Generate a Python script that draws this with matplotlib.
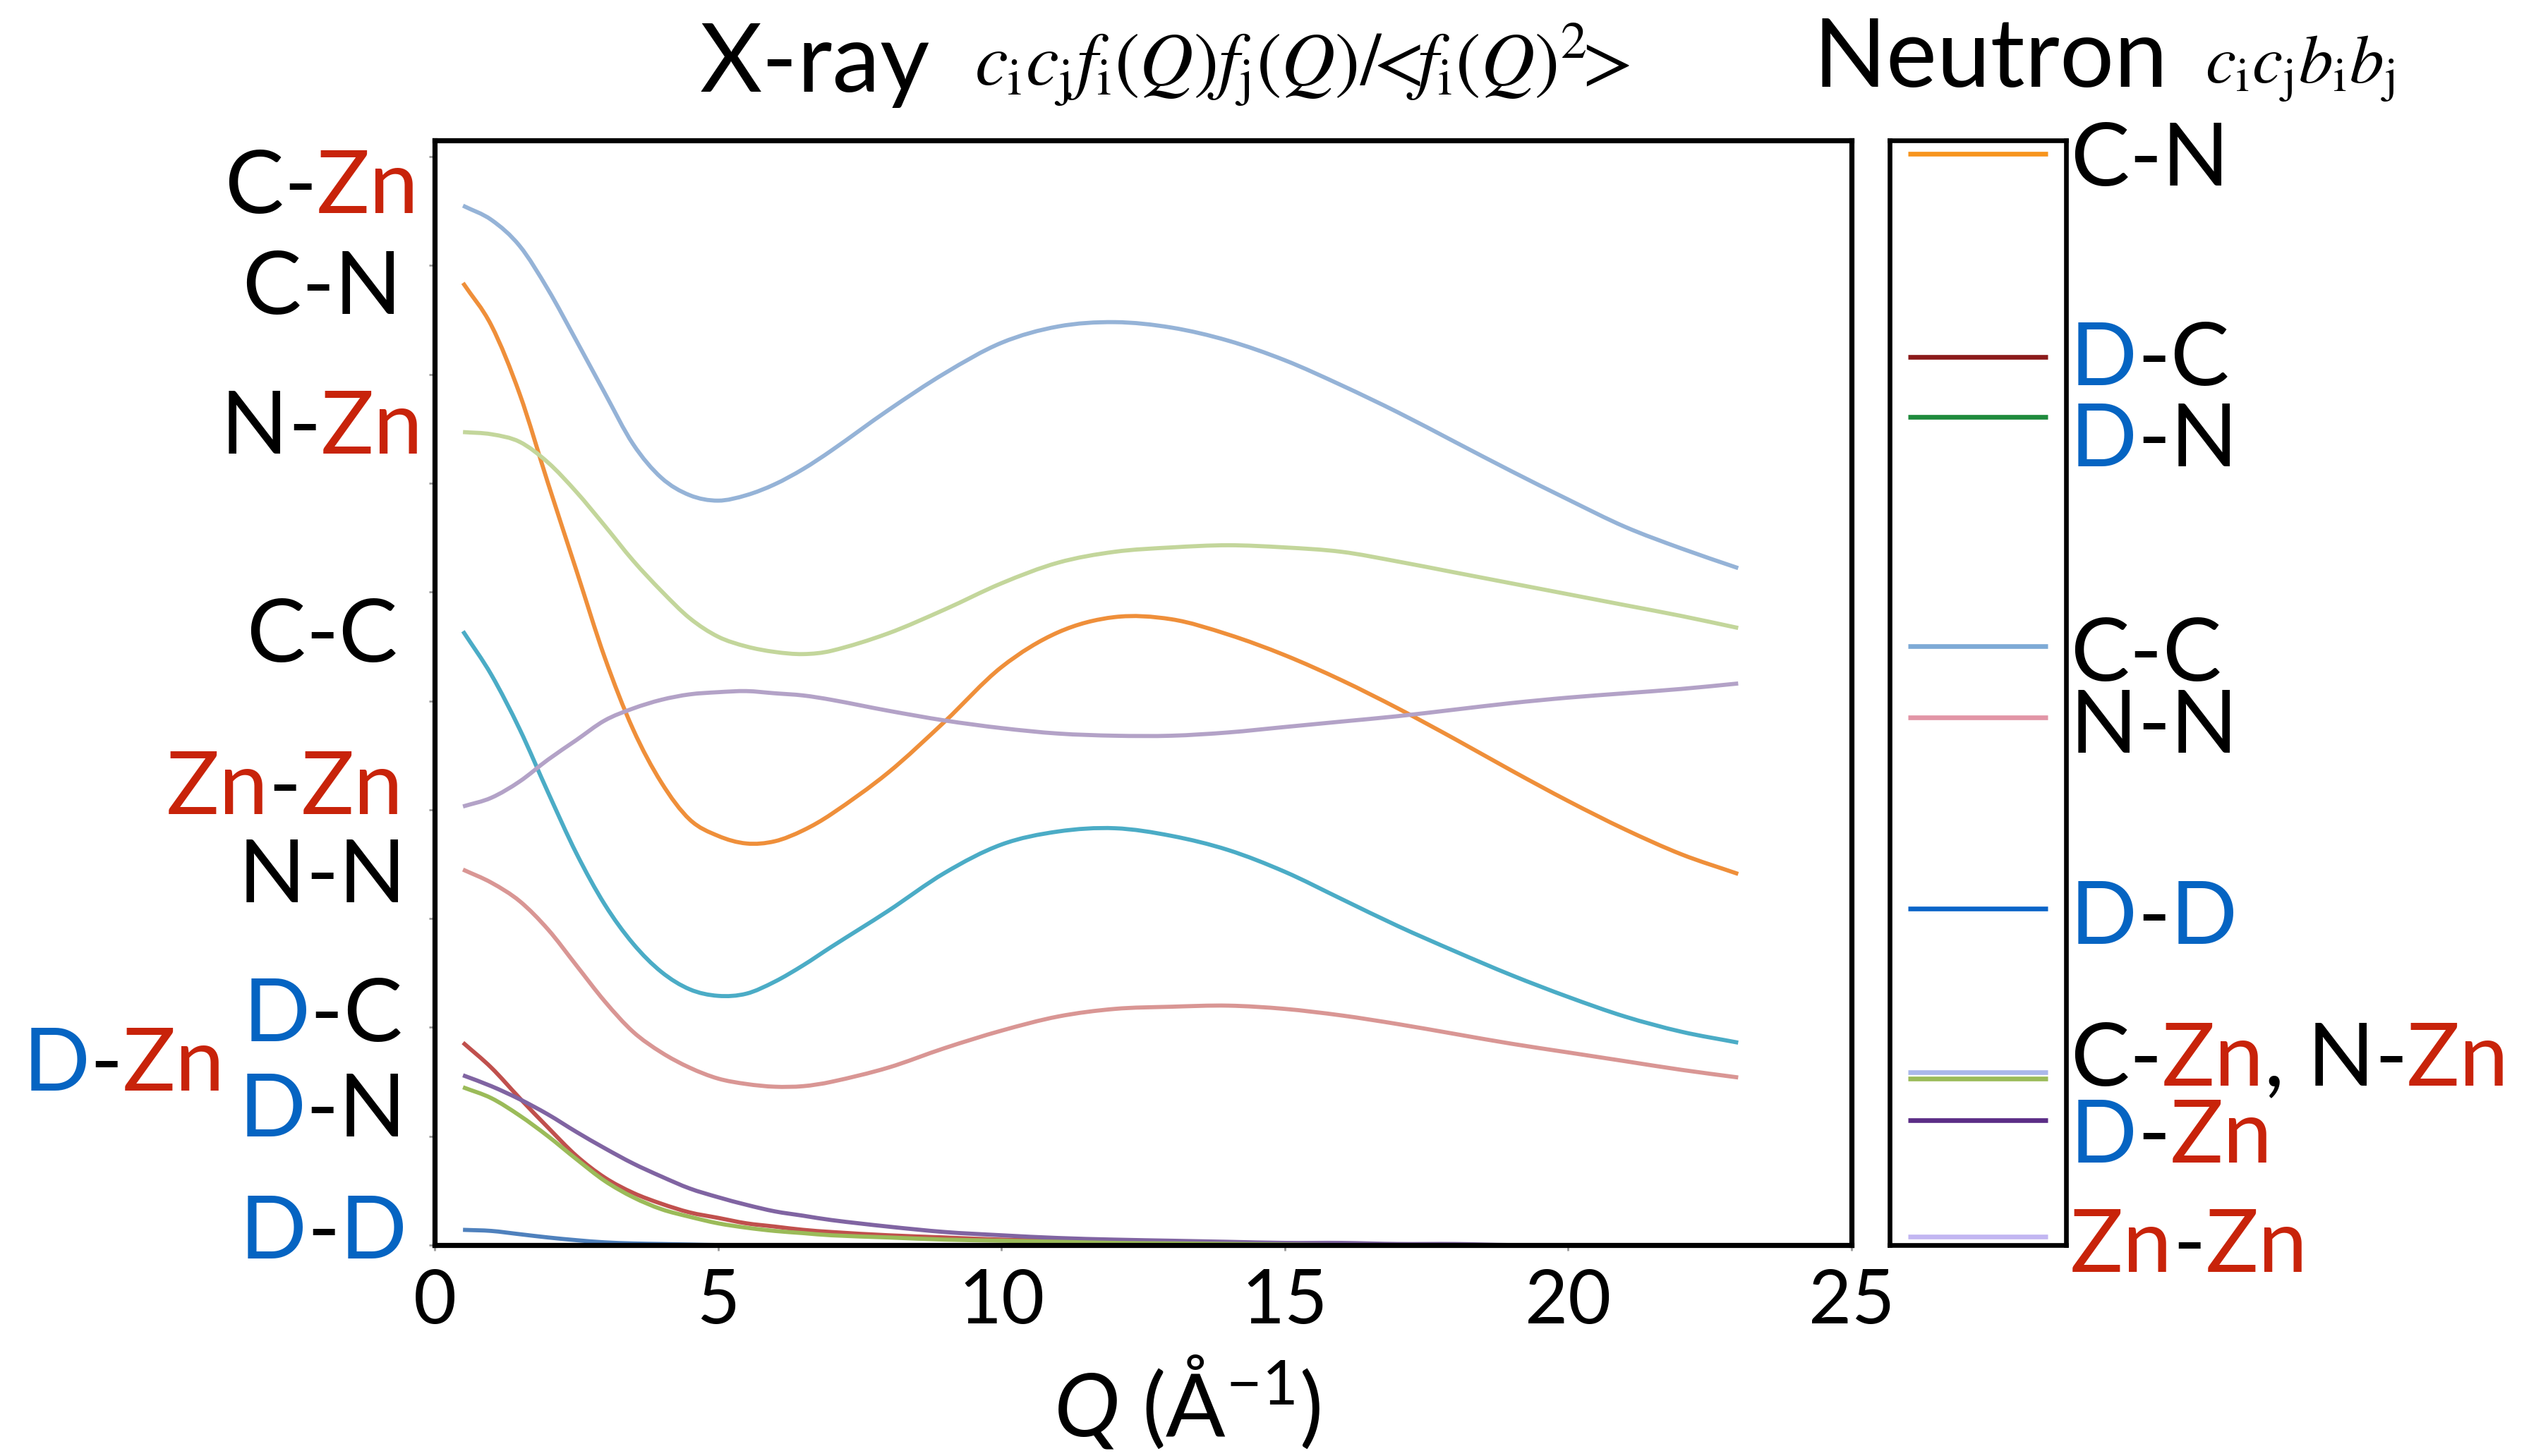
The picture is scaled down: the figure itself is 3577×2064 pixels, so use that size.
import numpy as np
import matplotlib
matplotlib.use("Agg")
import matplotlib.pyplot as plt
from matplotlib.path import Path
from matplotlib.patches import PathPatch

# ---------------- data ----------------
Q = [0.5, 1, 1.5, 2, 2.5, 3, 3.5, 4, 4.5, 5, 5.5, 6, 6.5, 7, 8, 9, 10, 11, 12,
     13, 14, 15, 16, 17, 18, 19, 20, 21, 22, 23]

xray_c_zn = [9.55, 9.42, 9.18, 8.78, 8.31, 7.83, 7.36, 7.05, 6.89, 6.84, 6.89, 6.99, 7.13, 7.30,
             7.67, 8.01, 8.29, 8.44, 8.48, 8.43, 8.31, 8.13, 7.90, 7.65, 7.38, 7.11, 6.85, 6.60, 6.40, 6.22]
xray_c_n = [8.84, 8.45, 7.82, 7.00, 6.20, 5.40, 4.74, 4.25, 3.91, 3.76, 3.69, 3.71, 3.81, 3.96,
            4.34, 4.81, 5.31, 5.63, 5.77, 5.75, 5.61, 5.42, 5.19, 4.93, 4.65, 4.36, 4.08, 3.82, 3.59, 3.41]
xray_n_zn = [7.47, 7.45, 7.38, 7.19, 6.92, 6.61, 6.29, 6.01, 5.76, 5.59, 5.50, 5.45, 5.43, 5.46,
             5.62, 5.84, 6.08, 6.27, 6.37, 6.41, 6.43, 6.41, 6.37, 6.28, 6.18, 6.08, 5.98, 5.88, 5.78, 5.67]
xray_c_c = [5.64, 5.24, 4.74, 4.16, 3.60, 3.13, 2.77, 2.51, 2.35, 2.29, 2.31, 2.42, 2.57, 2.74,
            3.07, 3.42, 3.68, 3.80, 3.83, 3.76, 3.63, 3.43, 3.18, 2.93, 2.70, 2.48, 2.28, 2.10, 1.96, 1.86]
xray_zn_zn = [4.03, 4.11, 4.26, 4.46, 4.64, 4.82, 4.93, 5.01, 5.06, 5.08, 5.09, 5.07, 5.05, 5.01,
              4.91, 4.82, 4.75, 4.70, 4.68, 4.68, 4.71, 4.76, 4.81, 4.86, 4.92, 4.98, 5.03, 5.07, 5.11, 5.16]
xray_n_n = [3.45, 3.33, 3.16, 2.90, 2.57, 2.24, 1.96, 1.77, 1.63, 1.53, 1.48, 1.455, 1.46, 1.50,
            1.63, 1.81, 1.97, 2.10, 2.17, 2.19, 2.20, 2.17, 2.11, 2.03, 1.94, 1.85, 1.77, 1.69, 1.61, 1.54]
xray_d_c = [1.86, 1.63, 1.35, 1.08, 0.82, 0.62, 0.48, 0.38, 0.30, 0.25, 0.20, 0.17, 0.14, 0.12,
            0.09, 0.07, 0.05, 0.04, 0.03, 0.02, 0.015, 0.01, 0.01, 0.005, 0.0, 0.0, 0.0, 0.0, 0.0, 0.0]
xray_d_zn = [1.56, 1.46, 1.34, 1.20, 1.04, 0.89, 0.75, 0.63, 0.52, 0.44, 0.37, 0.31, 0.27, 0.23,
             0.17, 0.12, 0.09, 0.065, 0.05, 0.04, 0.03, 0.02, 0.02, 0.01, 0.01, 0.0, 0.0, 0.0, 0.0, 0.0]
xray_d_n = [1.45, 1.35, 1.19, 1.00, 0.79, 0.59, 0.44, 0.33, 0.26, 0.20, 0.16, 0.13, 0.11, 0.09,
            0.07, 0.05, 0.04, 0.03, 0.02, 0.015, 0.01, 0.005, 0.0, 0.0, 0.0, 0.0, 0.0, 0.0, 0.0, 0.0]
xray_d_d = [0.14, 0.13, 0.10, 0.07, 0.045, 0.025, 0.015, 0.01, 0.005, 0.0, 0.0, 0.0, 0.0, 0.0,
            0.0, 0.0, 0.0, 0.0, 0.0, 0.0, 0.0, 0.0, 0.0, 0.0, 0.0, 0.0, 0.0, 0.0, 0.0, 0.0]

xray_pairs = ["C-Zn", "C-N", "N-Zn", "C-C", "Zn-Zn", "N-N", "D-C", "D-Zn", "D-N", "D-D"]
xray_values = [xray_c_zn, xray_c_n, xray_n_zn, xray_c_c, xray_zn_zn, xray_n_n,
               xray_d_c, xray_d_zn, xray_d_n, xray_d_d]
xray_colors = ["#95b3d7", "#ef8f3a", "#c3d69b", "#4bacc6", "#b3a2c7", "#d99694",
               "#c0504d", "#8064a2", "#9bbb59", "#4f81bd"]

# neutron weights c_i c_j b_i b_j (same vertical scale)
neutron_pairs = ["C-N", "D-C", "D-N", "C-C", "N-N", "D-D", "C-Zn", "N-Zn", "D-Zn", "Zn-Zn"]
neutron_values = [10.03, 8.16, 7.61, 5.50, 4.85, 3.09, 1.59, 1.53, 1.15, 0.08]
neutron_colors = ["#f7941d", "#8b1a1a", "#1e8a3c", "#7eaad6", "#e295a6", "#0a64c8",
                  "#aab8ea", "#9bbb59", "#5b2d86", "#c2b6f2"]

element_colors = {"C": "black", "N": "black", "Zn": "#c8230a", "D": "#0564c2"}

# ---------------- layout (image pixels) ----------------
W, H, DPI = 3577, 2064, 200
FONT = "Lato"
plt.rcParams["font.family"] = FONT
plt.rcParams["mathtext.fontset"] = "custom"
plt.rcParams["mathtext.rm"] = "Lato"
plt.rcParams["mathtext.it"] = "Lato:italic"

fig = plt.figure(figsize=(W / DPI, H / DPI), dpi=DPI)
fig.patch.set_facecolor("white")


def fx(px):
    return px / W


def fy(py):
    return 1 - py / H


def smooth_path(xs, ys):
    # smoothed line through the read points (cubic Hermite drawn as Bezier segments)
    x = np.asarray(xs, float)
    y = np.asarray(ys, float)
    n = len(x)
    m = np.empty(n)
    m[1:-1] = (y[2:] - y[:-2]) / (x[2:] - x[:-2])
    m[0] = (y[1] - y[0]) / (x[1] - x[0])
    m[-1] = (y[-1] - y[-2]) / (x[-1] - x[-2])
    verts = [(x[0], y[0])]
    codes = [Path.MOVETO]
    for i in range(n - 1):
        h = x[i + 1] - x[i]
        verts += [(x[i] + h / 3, y[i] + m[i] * h / 3),
                  (x[i + 1] - h / 3, y[i + 1] - m[i + 1] * h / 3),
                  (x[i + 1], y[i + 1])]
        codes += [Path.CURVE4] * 3
    return Path(verts, codes)


top, bottom = 199, 1765
ax = fig.add_axes([fx(616), fy(bottom), (2624 - 616) / W, (bottom - top) / H])
axn = fig.add_axes([fx(2678), fy(bottom), (2928 - 2678) / W, (bottom - top) / H])

for name, vals, col in zip(xray_pairs, xray_values, xray_colors):
    ax.add_patch(PathPatch(smooth_path(Q, vals), fill=False, edgecolor=col, lw=2.1,
                           capstyle="butt"))

ax.set_xlim(0, 25)
ax.set_ylim(0, 10.15)
ax.set_xticks([0, 5, 10, 15, 20, 25])
ax.set_yticks(np.arange(0, 11, 1))
ax.set_yticklabels([])
ax.tick_params(axis="both", direction="out", length=3, width=1, color="#9a9a9a")
ax.tick_params(axis="x", labelsize=38, pad=9)
for sp in ax.spines.values():
    sp.set_linewidth(2.6)
    sp.set_color("black")
    sp.set_zorder(5)

for name, val, col in zip(neutron_pairs, neutron_values, neutron_colors):
    axn.plot([0.104, 0.896], [val, val], color=col, lw=2.4, solid_capstyle="butt")
axn.set_xlim(0, 1)
axn.set_ylim(0, 10.15)
axn.set_xticks([])
axn.set_yticks([])
for sp in axn.spines.values():
    sp.set_linewidth(2.4)
    sp.set_color("black")

fig.canvas.draw()
renderer = fig.canvas.get_renderer()

LABEL_FS = 45


def split_pair(label):
    parts = []
    for i, chunk in enumerate(label.split(", ")):
        if i > 0:
            parts.append((", ", "black"))
        a, b = chunk.split("-")
        parts += [(a, element_colors[a]), ("-", "black"), (b, element_colors[b])]
    return parts


def put_label(label, x_px, base_px, align):
    parts = split_pair(label)
    texts = [fig.text(0, fy(base_px), s, color=c, fontsize=LABEL_FS, va="baseline", ha="left")
             for s, c in parts]
    widths = [t.get_window_extent(renderer).width for t in texts]
    x = x_px - sum(widths) * align
    for t, w in zip(texts, widths):
        t.set_x(fx(x))
        x += w


# left labels: (label, x anchor, cap centre y, alignment 0=left .5=centre 1=right)
left_labels = [("C-Zn", 456, 257, 0.5), ("C-N", 456, 400, 0.5), ("N-Zn", 456, 598, 0.5),
               ("C-C", 456, 893, 0.5), ("Zn-Zn", 572, 1109, 1.0), ("N-N", 456, 1234, 0.5),
               ("D-C", 457, 1431, 0.5), ("D-Zn", 319, 1501, 1.0), ("D-N", 457, 1566, 0.5),
               ("D-D", 458, 1739, 0.5)]
for lab, x, yc, al in left_labels:
    put_label(lab, x, yc + 45, al)

right_labels = [("C-N", 218), ("D-C", 501), ("D-N", 616), ("C-C", 920), ("N-N", 1022),
                ("D-D", 1293), ("C-Zn, N-Zn", 1494), ("D-Zn", 1603), ("Zn-Zn", 1758)]
for lab, yc in right_labels:
    put_label(lab, 2934, yc + 45, 0.0)

# titles
fig.text(fx(992), fy(130), "X-ray", fontsize=49, va="baseline", ha="left")
fig.text(fx(1381), fy(120),
         r"$c_\mathrm{i}c_\mathrm{j}f_\mathrm{i}(Q)f_\mathrm{j}(Q)/\!\!<\!\!f_\mathrm{i}(Q)^2\!\!>$",
         fontsize=38, va="baseline", ha="left", math_fontfamily="stix")
fig.text(fx(2569), fy(123), "Neutron", fontsize=49, va="baseline", ha="left")
fig.text(fx(3125), fy(118), r"$c_\mathrm{i}c_\mathrm{j}b_\mathrm{i}b_\mathrm{j}$",
         fontsize=35, va="baseline", ha="left", math_fontfamily="stix")

# x axis label
fig.text(fx(1682), fy(2035), r"$\mathit{Q}$ (Å$^{-1}$)", fontsize=45,
         va="baseline", ha="center")

fig.savefig("out.png", dpi=DPI, facecolor="white")
